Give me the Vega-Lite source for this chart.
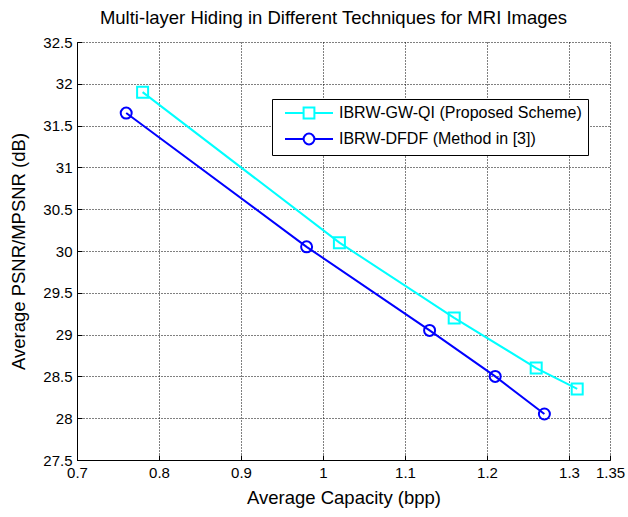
{
  "$schema": "https://vega.github.io/schema/vega-lite/v6.json",
  "autosize": "none",
  "width": 533,
  "height": 418,
  "padding": {"left": 77, "top": 42, "right": 18, "bottom": 57},
  "background": "white",
  "title": {
    "text": "Multi-layer Hiding in Different Techniques for MRI Images",
    "font": "Liberation Sans",
    "fontSize": 18.5,
    "fontWeight": "normal",
    "color": "black",
    "anchor": "middle",
    "dx": -10,
    "offset": 8
  },
  "config": {
    "view": {"stroke": null},
    "font": "Liberation Sans"
  },
  "data": {
    "values": [
      {"series": "IBRW-GW-QI (Proposed Scheme)", "capacity": 0.78, "psnr": 31.9},
      {"series": "IBRW-GW-QI (Proposed Scheme)", "capacity": 1.02, "psnr": 30.1},
      {"series": "IBRW-GW-QI (Proposed Scheme)", "capacity": 1.16, "psnr": 29.2},
      {"series": "IBRW-GW-QI (Proposed Scheme)", "capacity": 1.26, "psnr": 28.6},
      {"series": "IBRW-GW-QI (Proposed Scheme)", "capacity": 1.31, "psnr": 28.35},
      {"series": "IBRW-DFDF (Method in [3])", "capacity": 0.76, "psnr": 31.65},
      {"series": "IBRW-DFDF (Method in [3])", "capacity": 0.98, "psnr": 30.05},
      {"series": "IBRW-DFDF (Method in [3])", "capacity": 1.13, "psnr": 29.05},
      {"series": "IBRW-DFDF (Method in [3])", "capacity": 1.21, "psnr": 28.5},
      {"series": "IBRW-DFDF (Method in [3])", "capacity": 1.27, "psnr": 28.05}
    ]
  },
  "encoding": {
    "x": {
      "field": "capacity",
      "type": "quantitative",
      "scale": {"domain": [0.7, 1.35], "nice": false, "zero": false},
      "axis": {
        "title": "Average Capacity (bpp)",
        "values": [0.7, 0.8, 0.9, 1.0, 1.1, 1.2, 1.3, 1.35],
        "labelExpr": "format(datum.value, '~g')",
        "grid": true,
        "gridColor": "black",
        "gridDash": [1, 2],
        "gridOpacity": 1,
        "gridWidth": 1,
        "domainColor": "black",
        "domainWidth": 1,
        "tickColor": "black",
        "tickSize": -5,
        "labelColor": "black",
        "labelFont": "Liberation Sans",
        "labelFontSize": 15,
        "labelPadding": 10,
        "labelFlush": false,
        "titleFont": "Liberation Sans",
        "titleFontSize": 18.5,
        "titleFontWeight": "normal",
        "titleColor": "black",
        "titlePadding": 8
      }
    },
    "y": {
      "field": "psnr",
      "type": "quantitative",
      "scale": {"domain": [27.5, 32.5], "nice": false, "zero": false},
      "axis": {
        "title": "Average PSNR/MPSNR (dB)",
        "values": [27.5, 28, 28.5, 29, 29.5, 30, 30.5, 31, 31.5, 32, 32.5],
        "labelExpr": "format(datum.value, '~g')",
        "grid": true,
        "gridColor": "black",
        "gridDash": [1, 2],
        "gridOpacity": 1,
        "gridWidth": 1,
        "domainColor": "black",
        "domainWidth": 1,
        "tickColor": "black",
        "tickSize": -5,
        "labelColor": "black",
        "labelFont": "Liberation Sans",
        "labelFontSize": 15,
        "labelPadding": 10,
        "labelFlush": false,
        "titleFont": "Liberation Sans",
        "titleFontSize": 18.5,
        "titleFontWeight": "normal",
        "titleColor": "black",
        "titlePadding": 14
      }
    },
    "color": {
      "field": "series",
      "type": "nominal",
      "scale": {
        "domain": ["IBRW-GW-QI (Proposed Scheme)", "IBRW-DFDF (Method in [3])"],
        "range": ["#00FFFF", "#0000FF"]
      },
      "legend": {
        "title": null,
        "orient": "none",
        "legendX": 195,
        "legendY": 57,
        "direction": "vertical",
        "strokeColor": "black",
        "fillColor": "white",
        "padding": 6,
        "cornerRadius": 0,
        "symbolSize": 144,
        "symbolOffset": 23,
        "symbolStrokeWidth": 2,
        "symbolFillColor": "transparent",
        "rowPadding": 6,
        "labelFont": "Liberation Sans",
        "labelFontSize": 16,
        "labelColor": "black",
        "labelOffset": 22,
        "labelLimit": 400,
        "encode": {
          "symbols": {
            "update": {
              "shape": {"signal": "datum.value === 'IBRW-DFDF (Method in [3])' ? 'M-4,0H-0.9M0.9,0H4M0.9,0A0.9,0.9 0 1,1 -0.9,0A0.9,0.9 0 1,1 0.9,0' : 'M-4,0H-0.9M0.9,0H4M-0.9,-0.9H0.9V0.9H-0.9Z'"},
              "fill": {"value": "transparent"},
              "strokeWidth": {"value": 2}
            }
          }
        }
      }
    }
  },
  "layer": [
    {
      "mark": {"type": "line", "strokeWidth": 2}
    },
    {
      "transform": [{"filter": "datum.series === 'IBRW-GW-QI (Proposed Scheme)'"}],
      "mark": {"type": "point", "shape": "square", "filled": false, "strokeWidth": 2, "size": 121, "opacity": 1}
    },
    {
      "transform": [{"filter": "datum.series === 'IBRW-DFDF (Method in [3])'"}],
      "mark": {"type": "point", "shape": "circle", "filled": false, "strokeWidth": 2, "size": 121, "opacity": 1}
    }
  ]
}
